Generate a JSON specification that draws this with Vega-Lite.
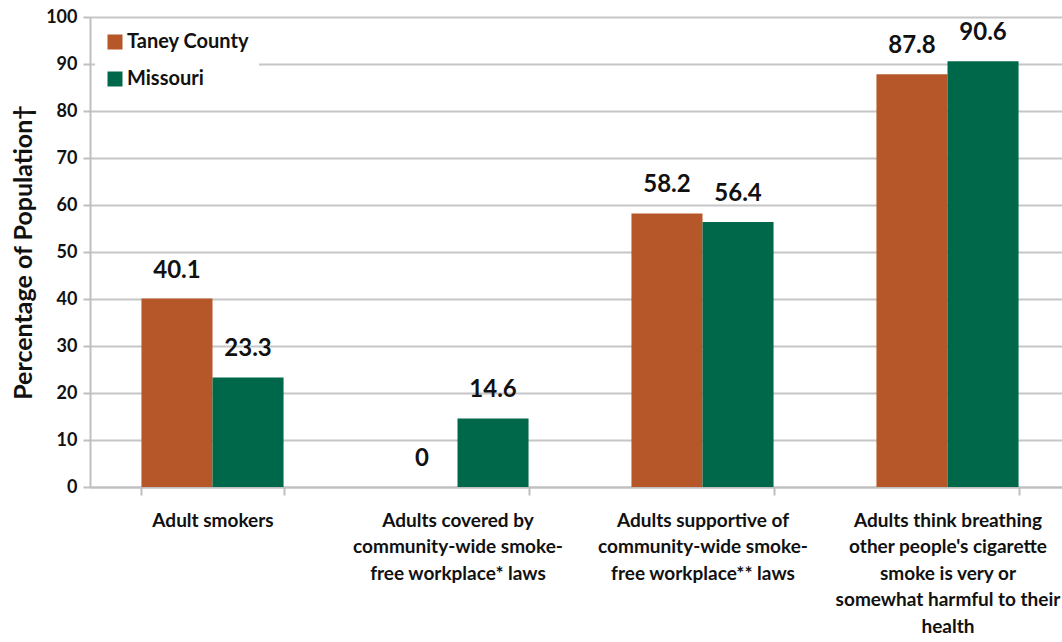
{
  "$schema": "https://vega.github.io/schema/vega-lite/v6.json",
  "width": 980,
  "height": 470,
  "autosize": {"type": "none"},
  "padding": {"left": 90, "top": 17, "right": 0, "bottom": 155},
  "background": "white",
  "config": {"view": {"stroke": null}, "font": "Lato"},
  "data": {
    "values": [
      {"category": "Adult smokers", "series": "Taney County", "value": 40.1},
      {"category": "Adult smokers", "series": "Missouri", "value": 23.3},
      {"category": "Adults covered by|community-wide smoke-|free workplace* laws", "series": "Taney County", "value": 0},
      {"category": "Adults covered by|community-wide smoke-|free workplace* laws", "series": "Missouri", "value": 14.6},
      {"category": "Adults supportive of|community-wide smoke-|free workplace** laws", "series": "Taney County", "value": 58.2},
      {"category": "Adults supportive of|community-wide smoke-|free workplace** laws", "series": "Missouri", "value": 56.4},
      {"category": "Adults think breathing|other people's cigarette|smoke is very or|somewhat harmful to their|health", "series": "Taney County", "value": 87.8},
      {"category": "Adults think breathing|other people's cigarette|smoke is very or|somewhat harmful to their|health", "series": "Missouri", "value": 90.6}
    ]
  },
  "encoding": {
    "x": {
      "field": "category", "type": "nominal", "sort": null,
      "scale": {"paddingInner": 0.42, "paddingOuter": 0.21},
      "axis": {
        "title": null, "labelAngle": 0, "labelExpr": "split(datum.label, '|')",
        "labelFont": "Lato", "labelFontSize": 19, "labelFontWeight": "bold", "labelColor": "#111111",
        "labelLineHeight": 26.5, "labelPadding": 16, "labelBaseline": "top", "labelLimit": 400,
        "tickBand": "extent", "tickSize": 8, "tickColor": "#BFBFBF", "tickWidth": 2,
        "domainColor": "#BFBFBF", "domainWidth": 2, "grid": false
      }
    },
    "xOffset": {"field": "series", "type": "nominal", "sort": ["Taney County", "Missouri"]},
    "y": {
      "field": "value", "type": "quantitative",
      "scale": {"domain": [0, 100]},
      "axis": {
        "title": "Percentage of Population†", "titleFont": "Lato", "titleFontSize": 25, "titleFontWeight": "bold", "titleColor": "#111111", "titlePadding": 9,
        "values": [0, 10, 20, 30, 40, 50, 60, 70, 80, 90, 100],
        "labelFont": "Lato", "labelFontSize": 18, "labelFontWeight": "bold", "labelColor": "#111111", "labelPadding": 6,
        "tickSize": 7, "tickColor": "#BFBFBF", "tickWidth": 2,
        "domainColor": "#BFBFBF", "domainWidth": 2,
        "grid": true, "gridColor": "#C6C6C6", "gridWidth": 2
      }
    }
  },
  "layer": [
    {
      "mark": {"type": "bar"},
      "encoding": {
        "color": {
          "field": "series", "type": "nominal",
          "scale": {"domain": ["Taney County", "Missouri"], "range": ["#B55729", "#00684A"]},
          "legend": {
            "title": null, "orient": "none", "legendX": 5, "legendY": 5,
            "fillColor": "white", "padding": 10,
            "symbolType": "square", "symbolSize": 225, "symbolStrokeWidth": 0,
            "labelFont": "Lato", "labelFontSize": 20, "labelFontWeight": "bold", "labelColor": "#111111",
            "rowPadding": 17, "labelOffset": 2
          }
        }
      }
    },
    {
      "mark": {"type": "text", "fontSize": 24, "fontWeight": "bold", "font": "Lato", "baseline": "alphabetic", "dy": -21, "color": "#111111"},
      "encoding": {
        "text": {"field": "value", "type": "quantitative", "format": ".4~"}
      }
    }
  ]
}
